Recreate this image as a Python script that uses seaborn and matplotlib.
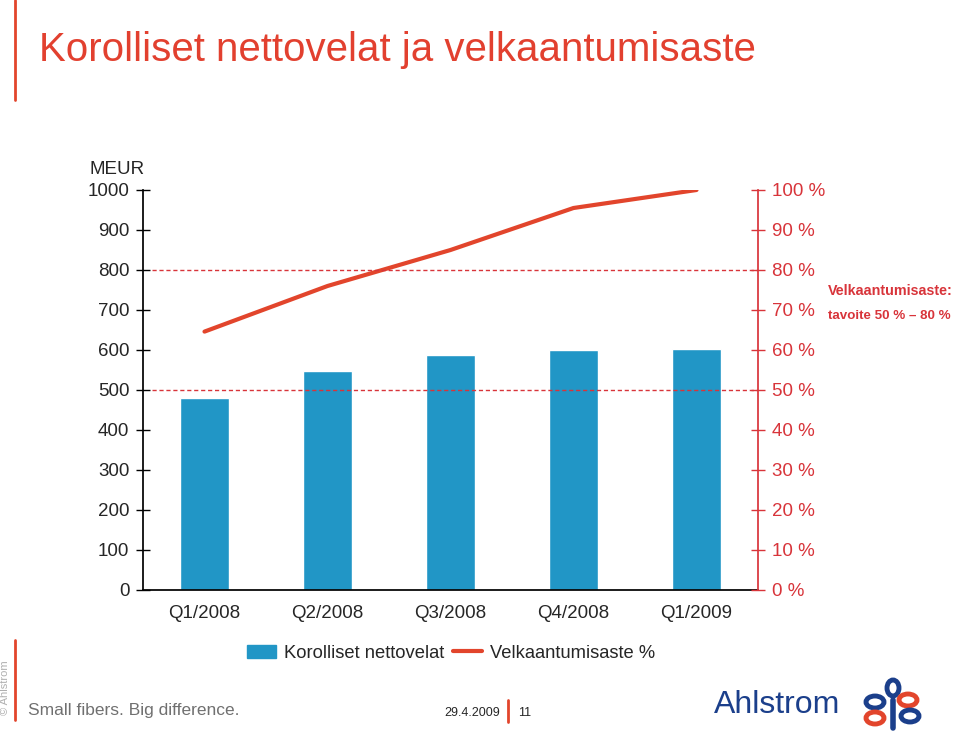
import numpy as np
import pandas as pd
import matplotlib
matplotlib.use("Agg")
import matplotlib.pyplot as plt
import seaborn as sns
from matplotlib.lines import Line2D
from matplotlib.patches import Patch, Ellipse

# -------------------------------
# Data
# -------------------------------
quarters = ["Q1/2008", "Q2/2008", "Q3/2008", "Q4/2008", "Q1/2009"]
net_debt = [480, 548, 588, 600, 602]          # MEUR
gearing = [64.6, 76.0, 85.0, 95.5, 100.0]     # %
target_band = [50, 80]                        # gearing target %
left_ticks = [0, 100, 200, 300, 400, 500, 600, 700, 800, 900, 1000]
right_ticks = [0, 10, 20, 30, 40, 50, 60, 70, 80, 90, 100]

BLUE = "#2196C6"
RED = "#E2452C"
AXRED = "#D8343A"
NAVY = "#1B3F8B"

sns.set_theme(style="white")
plt.rcParams["font.family"] = ["Liberation Sans", "DejaVu Sans"]

df = pd.DataFrame({"quarter": quarters, "net_debt": net_debt, "gearing": gearing})

fig = plt.figure(figsize=(9.6, 7.38), dpi=100)
ax = fig.add_axes([143 / 960, 1 - 590 / 738, (758 - 143) / 960, 400 / 738])

sns.barplot(data=df, x="quarter", y="net_debt", color=BLUE, width=0.4,
            saturation=1, ax=ax)
ax.set_ylim(0, 1000)
ax.set_xlim(-0.5, len(quarters) - 0.5)
ax.set_xlabel("")
ax.set_ylabel("")

# left axis styling
for s in ["top", "right"]:
    ax.spines[s].set_visible(False)
ax.spines["left"].set_color("black")
ax.spines["bottom"].set_color("black")
ax.set_yticks(left_ticks)
ax.set_yticklabels([str(v) for v in left_ticks], fontsize=13.5)
ax.tick_params(axis="y", direction="inout", length=9.5, width=1, color="black", pad=5)

# x: boundary ticks, labels at centres
ax.set_xticks(np.arange(-0.5, len(quarters), 1.0))
ax.set_xticklabels([])
ax.tick_params(axis="x", which="major", direction="inout", length=12, width=1, color="black")
ax.set_xticks(np.arange(len(quarters)), minor=True)
ax.set_xticklabels(quarters, minor=True, fontsize=13.5)
ax.tick_params(axis="x", which="minor", length=0, pad=11)

# right axis: gearing %
ax2 = ax.twinx()
sns.lineplot(data=df, x="quarter", y="gearing", color=RED, linewidth=3, ax=ax2,
             sort=False)
ax2.set_ylim(0, 100)
ax2.set_xlim(-0.5, len(quarters) - 0.5)
ax2.set_ylabel("")
for s in ["top", "left", "bottom"]:
    ax2.spines[s].set_visible(False)
ax2.spines["right"].set_color(AXRED)
ax2.set_yticks(right_ticks)
ax2.set_yticklabels([f"{v} %" for v in right_ticks], fontsize=13.5, color=AXRED)
ax2.tick_params(axis="y", direction="inout", length=9.5, width=1, color=AXRED, pad=5)
ax2.grid(False)
ax.grid(False)

for t in target_band:
    ax2.axhline(t, color=AXRED, linestyle=(0, (3, 2)), linewidth=1, xmin=0.015)

ax.text(-0.087, 1.03, "MEUR", transform=ax.transAxes, fontsize=13.5, ha="left",
        va="bottom")

fig.text(828 / 960, 1 - 291 / 738, "Velkaantumisaste:", color=AXRED, fontsize=10.3,
         fontweight="bold", ha="left", va="center")
fig.text(828 / 960, 1 - 316 / 738, "tavoite 50 % \u2013 80 %", color=AXRED, fontsize=9.6,
         fontweight="bold", ha="left", va="center")

# legend
handles = [Patch(facecolor=BLUE, edgecolor=BLUE),
           Line2D([0], [0], color=RED, linewidth=3)]
fig.legend(handles, ["Korolliset nettovelat", "Velkaantumisaste %"],
           loc="center", bbox_to_anchor=(451 / 960, 1 - 653 / 738), ncol=2,
           frameon=False, fontsize=13.2, handlelength=1.6, columnspacing=0.5,
           handletextpad=0.4)

# title and slide decorations
fig.text(39 / 960, 1 - 50 / 738, "Korolliset nettovelat ja velkaantumisaste",
         color="#E2402F", fontsize=29, ha="left", va="center")
fig.add_artist(Line2D([15 / 960, 15 / 960], [1.0, 1 - 100 / 738],
                      color=RED, linewidth=2))
fig.add_artist(Line2D([15 / 960, 15 / 960], [1 - 640 / 738, 1 - 720 / 738],
                      color=RED, linewidth=2))
fig.text(5 / 960, 1 - 688 / 738, "\u00a9 Ahlstrom", color="#B0B0B0", fontsize=8,
         rotation=90, ha="center", va="center")
fig.text(28 / 960, 1 - 711 / 738, "Small fibers. Big difference.", color="#707070",
         fontsize=12.5, ha="left", va="center")
fig.text(500 / 960, 1 - 713 / 738, "29.4.2009", fontsize=9, ha="right", va="center")
fig.add_artist(Line2D([508 / 960, 508 / 960], [1 - 700 / 738, 1 - 722 / 738],
                      color=RED, linewidth=2))
fig.text(518 / 960, 1 - 713 / 738, "11", fontsize=9, ha="left", va="center")
fig.text(714 / 960, 1 - 705 / 738, "Ahlstrom", color=NAVY, fontsize=23,
         ha="left", va="center")

# rough logo mark
logo = [((893, 688), 12, 16, NAVY), ((875, 702), 18, 12, NAVY),
        ((908, 700), 18, 12, RED), ((875, 718), 18, 12, RED),
        ((910, 716), 18, 12, NAVY)]
for (cx, cy), w, h, c in logo:
    fig.add_artist(Ellipse((cx / 960, 1 - cy / 738), w / 960, h / 738,
                           transform=fig.transFigure, facecolor="none",
                           edgecolor=c, linewidth=3.5))
fig.add_artist(Line2D([893 / 960, 893 / 960], [1 - 700 / 738, 1 - 728 / 738],
                      color=NAVY, linewidth=4))

fig.savefig("out.png", dpi=100)
